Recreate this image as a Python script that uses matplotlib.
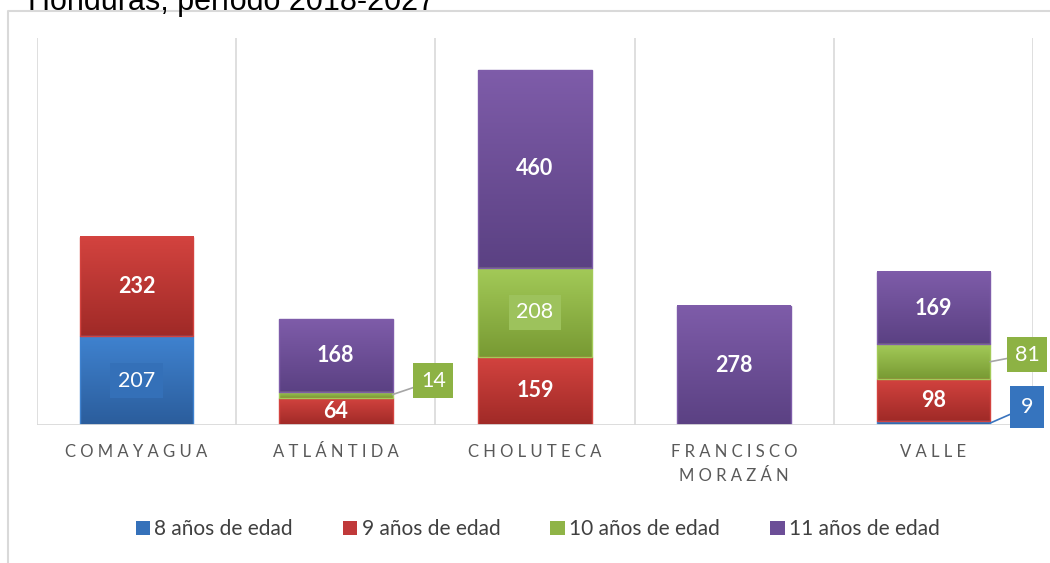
import numpy as np
import matplotlib.pyplot as plt
from matplotlib.lines import Line2D
from matplotlib.patches import Patch
from matplotlib.colors import LinearSegmentedColormap

plt.rcParams['font.family'] = ['Lato', 'DejaVu Sans']

departamentos = ['COMAYAGUA', 'ATLÁNTIDA', 'CHOLUTECA', 'FRANCISCO\nMORAZÁN', 'VALLE']
series = ['8 años de edad', '9 años de edad', '10 años de edad', '11 años de edad']
edad_8 = [207, 0, 0, 0, 9]
edad_9 = [232, 64, 159, 0, 98]
edad_10 = [0, 14, 208, 0, 81]
edad_11 = [0, 168, 460, 278, 169]
titulo = 'Honduras, período 2018-2027'

# (top, bottom) gradient colours, one per series
grads = [('#3f82cf', '#2b5d9c'), ('#d3433f', '#a02a27'),
         ('#a3ca58', '#789a33'), ('#7e5ca9', '#5b4183')]
solid = ['#3571ba', '#c0393a', '#8fb447', '#6c4e97']

fig = plt.figure(figsize=(10.5, 5.63), dpi=100)
ax = fig.add_axes([37 / 1050, 1 - 425 / 563, 996 / 1050, 387 / 563])

x = np.arange(len(departamentos))
width = 0.57
bottom = np.zeros(len(x))
data = [edad_8, edad_9, edad_10, edad_11]
for vals, (ctop, cbot) in zip(data, grads):
    cmap = LinearSegmentedColormap.from_list('g', [cbot, ctop])
    g = np.linspace(0, 1, 64).reshape(-1, 1)
    for xi, v, b in zip(x, vals, bottom):
        if v <= 0:
            continue
        ax.imshow(g, extent=[xi - width / 2, xi + width / 2, b, b + v],
                  origin='lower', aspect='auto', cmap=cmap, zorder=2,
                  interpolation='bilinear')
        ax.add_patch(plt.Rectangle((xi - width / 2, b), width, v, fill=False,
                                   edgecolor=ctop, lw=1, zorder=3))
    bottom = bottom + np.array(vals)

ax.set_xlim(-0.5, 4.5)
ax.set_ylim(0, 902)

for xv in np.arange(-0.5, 5, 1):
    ax.axvline(xv, color='#d9d9d9', lw=1.2, zorder=0)
ax.axhline(0, color='#d9d9d9', lw=2, zorder=4)

for s in ax.spines.values():
    s.set_visible(False)
ax.set_yticks([])
ax.set_xticks(x)
ax.set_xticklabels(['\n'.join(' '.join(p) for p in d.split('\n')) for d in departamentos],
                   fontsize=12, color='#595959', linespacing=1.6)
ax.tick_params(axis='x', length=0, pad=14)

# data labels
bold_kw = dict(ha='center', va='center', color='white', fontsize=15.5, fontweight='bold', zorder=6)
box_kw = dict(ha='center', va='center', color='white', fontsize=15.5, zorder=6)

ax.text(0, edad_8[0] / 2, str(edad_8[0]),
        bbox=dict(boxstyle='square,pad=0.35', fc='#3470b8', ec='none'), **box_kw)
for i, v in enumerate(edad_9):
    if v > 20:
        ax.text(i, edad_8[i] + v / 2, str(v), **bold_kw)
ax.text(2, edad_9[2] + edad_10[2] / 2, str(edad_10[2]),
        bbox=dict(boxstyle='square,pad=0.35', fc='#9dc25c', ec='none'), **box_kw)
for i, v in enumerate(edad_11):
    if v > 0:
        base = edad_8[i] + edad_9[i] + edad_10[i]
        ax.text(i, base + v / 2, str(v), **bold_kw)

# callouts
callouts = [
    (1, edad_8[1] + edad_9[1] + edad_10[1] / 2, edad_10[1], 1.49, 103, '#8db244', '#a6a6a6', 0.35),
    (4, edad_8[4] + edad_9[4] + edad_10[4] / 2, edad_10[4], 4.47, 164, '#8db244', '#a6a6a6', 0.35),
    (4, edad_8[4] / 2, edad_8[4], 4.47, 42, '#3674be', '#3a74be', 0.5),
]
for xi, yv, v, tx, ty, fc, lc, pad in callouts:
    ax.annotate(str(v), xy=(xi + width / 2, yv), xytext=(tx, ty),
                ha='center', va='center', color='white', fontsize=15.5,
                bbox=dict(boxstyle=f'square,pad={pad}', fc=fc, ec='none'),
                arrowprops=dict(arrowstyle='-', color=lc, lw=1.2, shrinkA=0, shrinkB=0),
                annotation_clip=False, zorder=7)

handles = [Patch(facecolor=c, edgecolor='none') for c in solid]
fig.legend(handles, series, loc='center', bbox_to_anchor=(0.512, 0.06), ncol=4,
           frameon=False, fontsize=15, labelcolor='#404040', handlelength=0.7,
           handleheight=0.7, handletextpad=0.2, columnspacing=2.4)

# outer chart frame and clipped title
fig.add_artist(Line2D([8 / 1050, 8 / 1050, 1.0], [0, 1 - 11 / 563, 1 - 11 / 563],
                      color='#d9d9d9', lw=1.5))
fig.text(28 / 1050, 1 - 10 / 563, titulo, fontsize=22, family='Liberation Sans',
         color='black', va='baseline', ha='left')

fig.savefig('out.png', dpi=100)
